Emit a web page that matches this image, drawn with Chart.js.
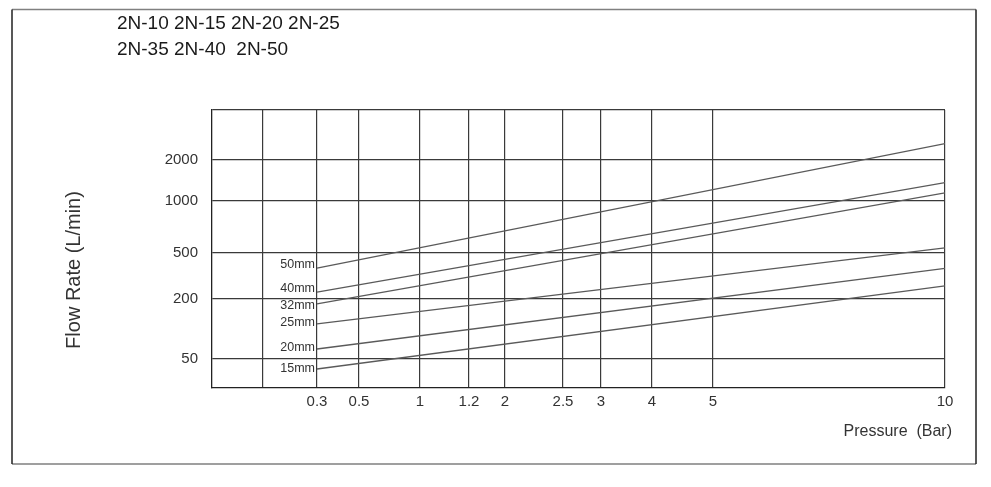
<!DOCTYPE html>
<html>
<head>
<meta charset="utf-8">
<script src="https://cdn.jsdelivr.net/npm/chart.js@4.4.1/dist/chart.umd.min.js"></script>
<style>
  html, body { margin: 0; padding: 0; background: #fff; }
  #wrap { width: 991px; height: 487px; }
</style>
</head>
<body>
<div id="wrap"><canvas id="flowChart" width="991" height="487"></canvas></div>
<script>
const modelLines = ["2N-10 2N-15 2N-20 2N-25", "2N-35 2N-40  2N-50"];
const pipeSizes = ["50mm", "40mm", "32mm", "25mm", "20mm", "15mm"];
const pressureRange = [0.3, 10];
const flowAtLow = [402, 245, 188, 138, 75, 25];
const flowAtHigh = [2400, 1450, 1200, 550, 400, 285];

const pressureTicks = [0.3, 0.5, 1, 1.2, 2, 2.5, 3, 4, 5, 10];
const flowTicks = [50, 200, 500, 1000, 2000];

// the printed chart has an uneven hand-made scale, so each tick gets its
// own spot along the axis (0 = the corner of the plot)
const pressureTickAt = [105, 147, 208, 257, 293, 351, 389, 440, 501, 733];
const flowTickAt = [29, 89, 135, 187, 228];
const blankPressureGrid = 51;
const xAxisLength = 733;
const yAxisLength = 278;

const FONT = "'Liberation Sans', Arial, sans-serif";

// piecewise mapping between a value and its place on the printed axis
function printedPos(v, vals, at) {
  let i = 0;
  while (i < vals.length - 2 && v > vals[i + 1]) i++;
  const t = (v - vals[i]) / (vals[i + 1] - vals[i]);
  return at[i] + t * (at[i + 1] - at[i]);
}

const datasets = pipeSizes.map((size, i) => ({
  label: size,
  data: [
    {
      x: printedPos(pressureRange[0], pressureTicks, pressureTickAt),
      y: printedPos(flowAtLow[i], flowTicks, flowTickAt),
    },
    {
      x: printedPos(pressureRange[1], pressureTicks, pressureTickAt),
      y: printedPos(flowAtHigh[i], flowTicks, flowTickAt),
    },
  ],
  borderColor: "#5a5a5a",
  borderWidth: 1.3,
  pointRadius: 0,
  fill: false,
}));

const labelNudge = [-3, -4, 2, -1, -1, 0];

const framePlugin = {
  id: "frame",
  afterDraw(chart) {
    const ctx = chart.ctx;
    ctx.save();

    // outer box
    ctx.lineWidth = 1.5;
    ctx.strokeStyle = "#808080";
    ctx.beginPath();
    ctx.moveTo(12, 9.5);
    ctx.lineTo(976, 9.5);
    ctx.moveTo(12, 464);
    ctx.lineTo(976, 464);
    ctx.stroke();
    ctx.strokeStyle = "#222";
    ctx.beginPath();
    ctx.moveTo(12, 9.5);
    ctx.lineTo(12, 464);
    ctx.moveTo(976, 9.5);
    ctx.lineTo(976, 464);
    ctx.stroke();

    // model list
    ctx.fillStyle = "#1a1a1a";
    ctx.font = "19px " + FONT;
    ctx.textBaseline = "middle";
    ctx.textAlign = "left";
    modelLines.forEach((t, i) => ctx.fillText(t, 117, 24 + i * 26));

    // curve labels
    ctx.fillStyle = "#333";
    ctx.font = "12.5px " + FONT;
    ctx.textAlign = "right";
    chart.data.datasets.forEach((ds, i) => {
      const p = chart.getDatasetMeta(i).data[0];
      ctx.fillText(ds.label, p.x - 2, p.y + labelNudge[i]);
    });

    // x title, sits a little past the plot's right edge
    ctx.font = "16px " + FONT;
    ctx.fillText("Pressure  (Bar)", chart.chartArea.right + 7, 432);

    // y title
    ctx.translate(74, 270);
    ctx.rotate(-Math.PI / 2);
    ctx.textAlign = "center";
    ctx.font = "20px " + FONT;
    ctx.fillText("Flow Rate (L/min)", 0, 0);

    ctx.restore();
  },
};

new Chart(document.getElementById("flowChart"), {
  type: "line",
  data: { datasets },
  plugins: [framePlugin],
  options: {
    responsive: false,
    animation: false,
    layout: { padding: { left: 0, top: 110, right: 46, bottom: 0 } },
    plugins: { legend: { display: false }, tooltip: { enabled: false } },
    scales: {
      x: {
        type: "linear",
        min: 0,
        max: xAxisLength,
        afterBuildTicks: (s) => {
          s.ticks = [blankPressureGrid, ...pressureTickAt].map((v) => ({ value: v }));
        },
        afterFit: (s) => {
          s.height = 99;
        },
        ticks: {
          autoSkip: false,
          maxRotation: 0,
          padding: 5,
          color: "#333",
          font: { family: FONT, size: 15 },
          callback: (v, i) => (i === 0 ? "" : String(pressureTicks[i - 1])),
        },
        grid: { color: "#3a3a3a", lineWidth: 1.2, drawTicks: false },
        border: { color: "#222", width: 1.3 },
      },
      y: {
        type: "linear",
        min: 0,
        max: yAxisLength,
        afterBuildTicks: (s) => {
          s.ticks = [...flowTickAt, yAxisLength].map((v) => ({ value: v }));
        },
        afterFit: (s) => {
          s.width = 212;
        },
        ticks: {
          autoSkip: false,
          padding: 14,
          color: "#333",
          font: { family: FONT, size: 15 },
          callback: (v, i) => (i < flowTicks.length ? String(flowTicks[i]) : ""),
        },
        grid: { color: "#3a3a3a", lineWidth: 1.2, drawTicks: false },
        border: { color: "#222", width: 1.3 },
      },
    },
  },
});
</script>
</body>
</html>
